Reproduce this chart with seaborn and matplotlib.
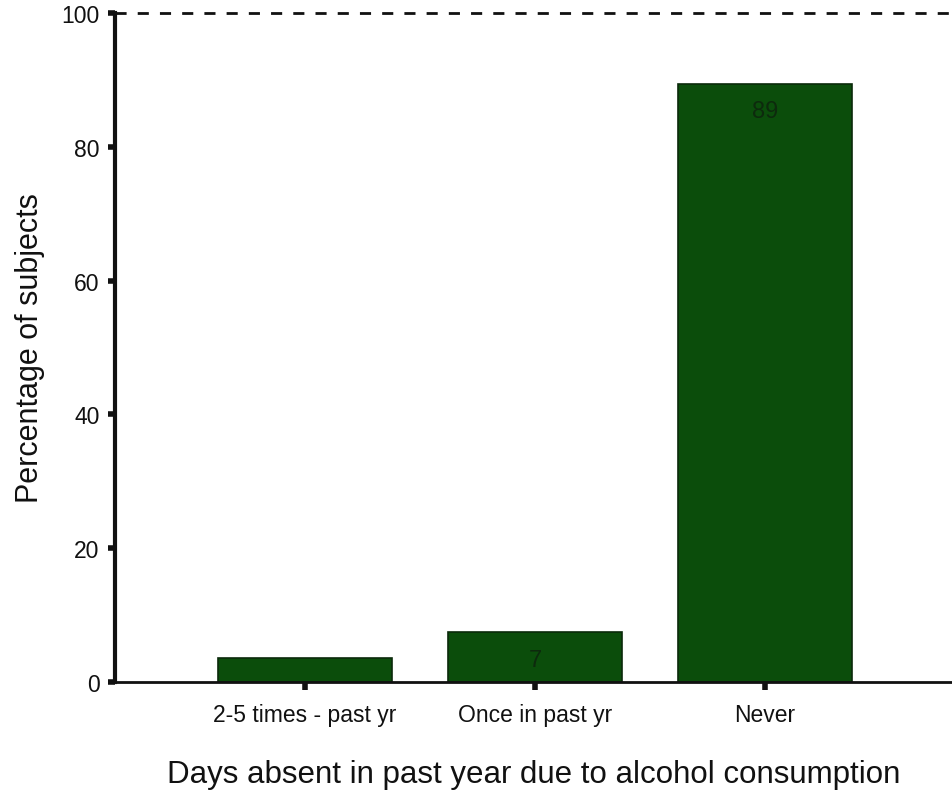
import matplotlib
matplotlib.use("Agg")
import matplotlib.pyplot as plt
import seaborn as sns
import pandas as pd

categories = ["2-5 times - past yr", "Once in past yr", "Never"]
percentages = [3.6, 7.5, 89.4]
bar_labels = ["", "7", "89"]


def main():
    df = pd.DataFrame({"absent": categories, "pct": percentages})

    sns.set_theme(style="white")
    plt.rcParams["font.family"] = ["Liberation Sans", "DejaVu Sans"]

    fig = plt.figure(figsize=(9.53, 8.03), dpi=100)
    ax = fig.add_axes([0.1207, 0.1494, 0.8793, 0.8332])

    sns.barplot(data=df, x="absent", y="pct", color="#0b4d0b", saturation=1,
                width=0.757, edgecolor="#0a2a0a", linewidth=1.2, ax=ax)

    # value labels, drawn in a colour close to the bar fill like the scan
    for i, (v, lab) in enumerate(zip(percentages, bar_labels)):
        if not lab:
            continue
        y = v / 2 - 0.5 if v < 20 else v - 4
        ax.text(i, y, lab, ha="center", va="center", fontsize=17,
                color="#0d2a0d")

    ax.set_xlim(-0.826, 2.817)
    ax.set_ylim(0, 100)
    ax.set_yticks([0, 20, 40, 60, 80, 100])

    ax.axhline(100, color="#111111", lw=2, ls=(0, (4, 4)), clip_on=False)
    for side in ["top", "right"]:
        ax.spines[side].set_visible(False)
    ax.spines["left"].set_linewidth(3)
    ax.spines["left"].set_color("#111111")
    ax.spines["bottom"].set_linewidth(2)
    ax.spines["bottom"].set_color("#111111")

    ax.tick_params(axis="y", left=True, direction="out", length=5, width=4,
                   colors="#111111", labelsize=16.5, pad=6)
    ax.tick_params(axis="x", bottom=True, direction="out", length=6, width=4,
                   colors="#111111", labelsize=16.5, pad=9)

    ax.set_xlabel("Days absent in past year due to alcohol consumption",
                  fontsize=22.5, labelpad=24, color="#111111")
    ax.set_ylabel("Percentage of subjects", fontsize=22, labelpad=12,
                  color="#111111")

    plt.savefig("out.png", dpi=100)


main()
